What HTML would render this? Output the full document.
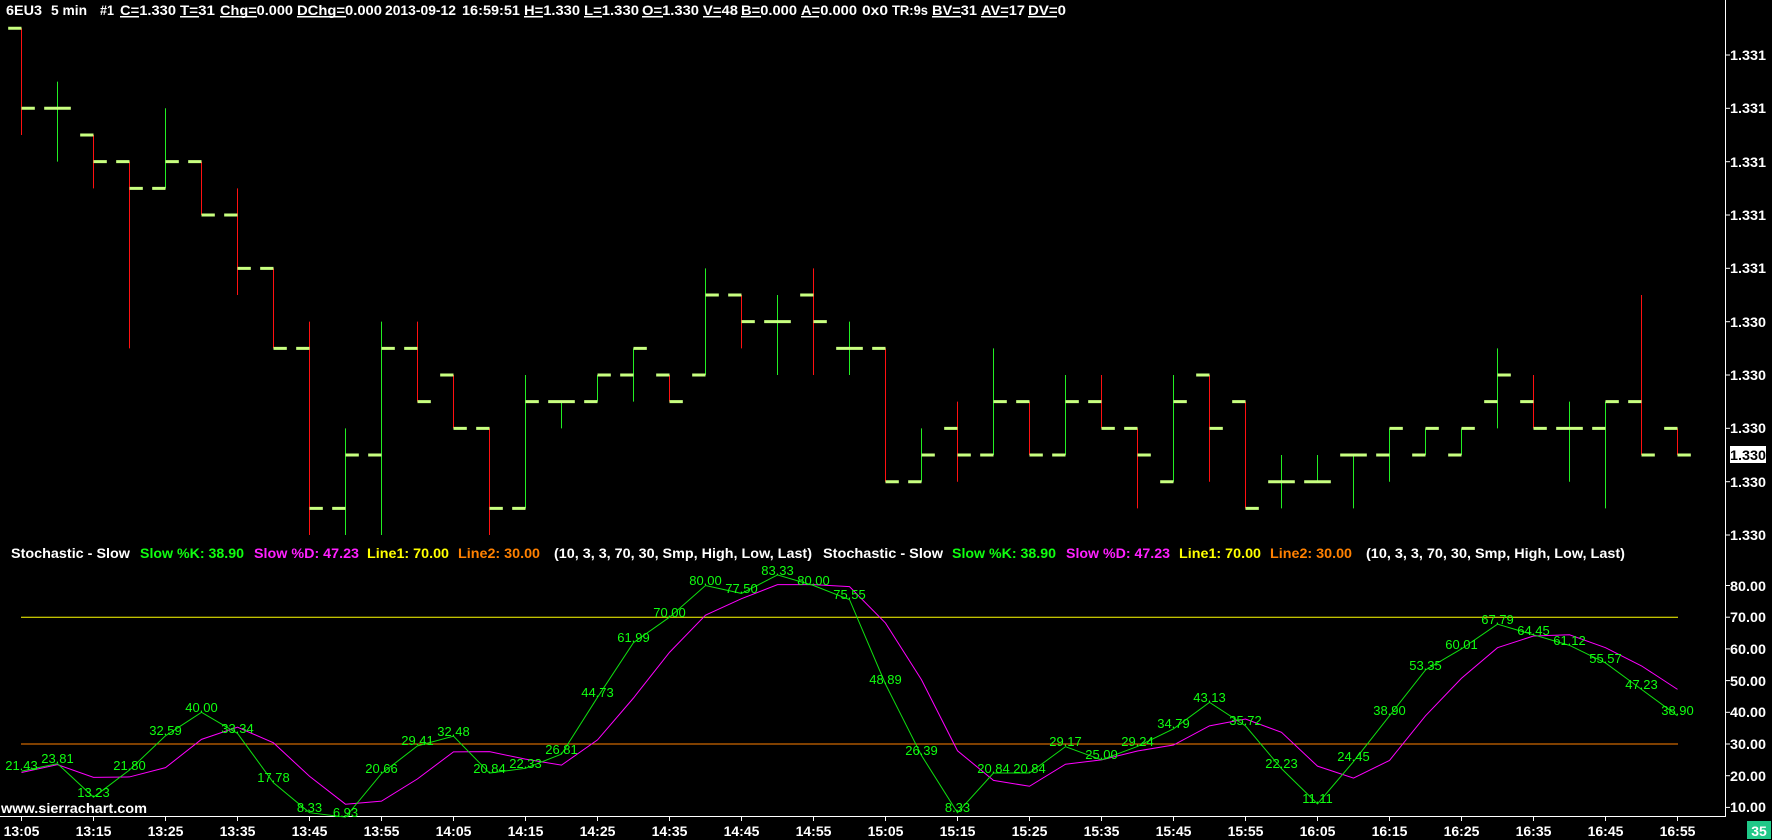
<!DOCTYPE html>
<html><head><meta charset="utf-8"><style>
html,body{margin:0;padding:0;background:#000;width:1772px;height:840px;overflow:hidden}
svg{display:block}
text{font-family:"Liberation Sans",Arial,sans-serif}
.h{fill:#fff;font-weight:bold;font-size:14px}
.k{fill:#10ff10;font-size:13px;text-anchor:middle}
.ax{fill:#fff;font-weight:bold;font-size:14px}
.t{fill:#fff;font-weight:bold;font-size:14px;text-anchor:middle}
</style></head><body>
<svg width="1772" height="840" viewBox="0 0 1772 840" xmlns="http://www.w3.org/2000/svg">
<rect width="1772" height="840" fill="#000"/>
<!-- header -->
<g class="h">
<text x="6" y="15" class="h" textLength="36" lengthAdjust="spacingAndGlyphs">6EU3</text>
<text x="51" y="15" class="h" textLength="36" lengthAdjust="spacingAndGlyphs">5 min</text>
<text x="100" y="15" class="h" textLength="14" lengthAdjust="spacingAndGlyphs">#1</text>
<text x="120" y="15" class="h" textLength="56" lengthAdjust="spacingAndGlyphs">C=1.330</text>
<text x="180" y="15" class="h" textLength="35" lengthAdjust="spacingAndGlyphs">T=31</text>
<text x="220" y="15" class="h" textLength="73" lengthAdjust="spacingAndGlyphs">Chg=0.000</text>
<text x="297" y="15" class="h" textLength="85" lengthAdjust="spacingAndGlyphs">DChg=0.000</text>
<text x="385" y="15" class="h" textLength="71" lengthAdjust="spacingAndGlyphs">2013-09-12</text>
<text x="462" y="15" class="h" textLength="58" lengthAdjust="spacingAndGlyphs">16:59:51</text>
<text x="524" y="15" class="h" textLength="56" lengthAdjust="spacingAndGlyphs">H=1.330</text>
<text x="584" y="15" class="h" textLength="55" lengthAdjust="spacingAndGlyphs">L=1.330</text>
<text x="642" y="15" class="h" textLength="57" lengthAdjust="spacingAndGlyphs">O=1.330</text>
<text x="703" y="15" class="h" textLength="35" lengthAdjust="spacingAndGlyphs">V=48</text>
<text x="741" y="15" class="h" textLength="56" lengthAdjust="spacingAndGlyphs">B=0.000</text>
<text x="801" y="15" class="h" textLength="56" lengthAdjust="spacingAndGlyphs">A=0.000</text>
<text x="862" y="15" class="h" textLength="26" lengthAdjust="spacingAndGlyphs">0x0</text>
<text x="892" y="15" class="h" textLength="36" lengthAdjust="spacingAndGlyphs">TR:9s</text>
<text x="932" y="15" class="h" textLength="45" lengthAdjust="spacingAndGlyphs">BV=31</text>
<text x="981" y="15" class="h" textLength="44" lengthAdjust="spacingAndGlyphs">AV=17</text>
<text x="1028" y="15" class="h" textLength="38" lengthAdjust="spacingAndGlyphs">DV=0</text>
</g>
<g fill="#fff">
<rect x="120" y="16" width="19" height="1.5"/><rect x="180" y="16" width="19" height="1.5"/>
<rect x="220" y="16" width="37" height="1.5"/><rect x="297" y="16" width="49" height="1.5"/>
<rect x="524" y="16" width="19" height="1.5"/><rect x="584" y="16" width="18" height="1.5"/>
<rect x="642" y="16" width="21" height="1.5"/><rect x="703" y="16" width="18" height="1.5"/>
<rect x="741" y="16" width="20" height="1.5"/><rect x="801" y="16" width="18" height="1.5"/>
<rect x="932" y="16" width="29" height="1.5"/><rect x="981" y="16" width="27" height="1.5"/>
<rect x="1028" y="16" width="29" height="1.5"/>
</g>

<g transform="translate(21.5,28.3) scale(36,26.67)">
<g stroke="#ff1010" stroke-width="1">
<line x1="0" y1="0" x2="0" y2="4" vector-effect="non-scaling-stroke"/>
<line x1="2" y1="4" x2="2" y2="6" vector-effect="non-scaling-stroke"/>
<line x1="3" y1="5" x2="3" y2="12" vector-effect="non-scaling-stroke"/>
<line x1="5" y1="5" x2="5" y2="7" vector-effect="non-scaling-stroke"/>
<line x1="6" y1="6" x2="6" y2="10" vector-effect="non-scaling-stroke"/>
<line x1="7" y1="9" x2="7" y2="12" vector-effect="non-scaling-stroke"/>
<line x1="8" y1="11" x2="8" y2="19" vector-effect="non-scaling-stroke"/>
<line x1="11" y1="11" x2="11" y2="14" vector-effect="non-scaling-stroke"/>
<line x1="12" y1="13" x2="12" y2="15" vector-effect="non-scaling-stroke"/>
<line x1="13" y1="15" x2="13" y2="19" vector-effect="non-scaling-stroke"/>
<line x1="18" y1="13" x2="18" y2="14" vector-effect="non-scaling-stroke"/>
<line x1="20" y1="10" x2="20" y2="12" vector-effect="non-scaling-stroke"/>
<line x1="22" y1="9" x2="22" y2="13" vector-effect="non-scaling-stroke"/>
<line x1="24" y1="12" x2="24" y2="17" vector-effect="non-scaling-stroke"/>
<line x1="26" y1="14" x2="26" y2="17" vector-effect="non-scaling-stroke"/>
<line x1="28" y1="14" x2="28" y2="16" vector-effect="non-scaling-stroke"/>
<line x1="30" y1="13" x2="30" y2="15" vector-effect="non-scaling-stroke"/>
<line x1="31" y1="15" x2="31" y2="18" vector-effect="non-scaling-stroke"/>
<line x1="33" y1="13" x2="33" y2="17" vector-effect="non-scaling-stroke"/>
<line x1="34" y1="14" x2="34" y2="18" vector-effect="non-scaling-stroke"/>
<line x1="42" y1="13" x2="42" y2="15" vector-effect="non-scaling-stroke"/>
<line x1="45" y1="10" x2="45" y2="16" vector-effect="non-scaling-stroke"/>
<line x1="46" y1="15" x2="46" y2="16" vector-effect="non-scaling-stroke"/>
</g>
<g stroke="#22ee22" stroke-width="1">
<line x1="1" y1="2" x2="1" y2="5" vector-effect="non-scaling-stroke"/>
<line x1="4" y1="3" x2="4" y2="6" vector-effect="non-scaling-stroke"/>
<line x1="9" y1="15" x2="9" y2="19" vector-effect="non-scaling-stroke"/>
<line x1="10" y1="11" x2="10" y2="19" vector-effect="non-scaling-stroke"/>
<line x1="14" y1="13" x2="14" y2="18" vector-effect="non-scaling-stroke"/>
<line x1="15" y1="14" x2="15" y2="15" vector-effect="non-scaling-stroke"/>
<line x1="16" y1="13" x2="16" y2="14" vector-effect="non-scaling-stroke"/>
<line x1="17" y1="12" x2="17" y2="14" vector-effect="non-scaling-stroke"/>
<line x1="19" y1="9" x2="19" y2="13" vector-effect="non-scaling-stroke"/>
<line x1="21" y1="10" x2="21" y2="13" vector-effect="non-scaling-stroke"/>
<line x1="23" y1="11" x2="23" y2="13" vector-effect="non-scaling-stroke"/>
<line x1="25" y1="15" x2="25" y2="17" vector-effect="non-scaling-stroke"/>
<line x1="27" y1="12" x2="27" y2="16" vector-effect="non-scaling-stroke"/>
<line x1="29" y1="13" x2="29" y2="16" vector-effect="non-scaling-stroke"/>
<line x1="32" y1="13" x2="32" y2="17" vector-effect="non-scaling-stroke"/>
<line x1="35" y1="16" x2="35" y2="18" vector-effect="non-scaling-stroke"/>
<line x1="36" y1="16" x2="36" y2="17" vector-effect="non-scaling-stroke"/>
<line x1="37" y1="16" x2="37" y2="18" vector-effect="non-scaling-stroke"/>
<line x1="38" y1="15" x2="38" y2="17" vector-effect="non-scaling-stroke"/>
<line x1="39" y1="15" x2="39" y2="16" vector-effect="non-scaling-stroke"/>
<line x1="40" y1="15" x2="40" y2="16" vector-effect="non-scaling-stroke"/>
<line x1="41" y1="12" x2="41" y2="15" vector-effect="non-scaling-stroke"/>
<line x1="43" y1="14" x2="43" y2="17" vector-effect="non-scaling-stroke"/>
<line x1="44" y1="14" x2="44" y2="18" vector-effect="non-scaling-stroke"/>
</g>
<path stroke="#c8ff80" stroke-width="3" vector-effect="non-scaling-stroke" fill="none" d="
M-0.37 0H0 M0 3H0.37
M0.63 3H1 M1 3H1.37
M1.63 4H2 M2 5H2.37
M2.63 5H3 M3 6H3.37
M3.63 6H4 M4 5H4.37
M4.63 5H5 M5 7H5.37
M5.63 7H6 M6 9H6.37
M6.63 9H7 M7 12H7.37
M7.63 12H8 M8 18H8.37
M8.63 18H9 M9 16H9.37
M9.63 16H10 M10 12H10.37
M10.63 12H11 M11 14H11.37
M11.63 13H12 M12 15H12.37
M12.63 15H13 M13 18H13.37
M13.63 18H14 M14 14H14.37
M14.63 14H15 M15 14H15.37
M15.63 14H16 M16 13H16.37
M16.63 13H17 M17 12H17.37
M17.63 13H18 M18 14H18.37
M18.63 13H19 M19 10H19.37
M19.63 10H20 M20 11H20.37
M20.63 11H21 M21 11H21.37
M21.63 10H22 M22 11H22.37
M22.63 12H23 M23 12H23.37
M23.63 12H24 M24 17H24.37
M24.63 17H25 M25 16H25.37
M25.63 15H26 M26 16H26.37
M26.63 16H27 M27 14H27.37
M27.63 14H28 M28 16H28.37
M28.63 16H29 M29 14H29.37
M29.63 14H30 M30 15H30.37
M30.63 15H31 M31 16H31.37
M31.63 17H32 M32 14H32.37
M32.63 13H33 M33 15H33.37
M33.63 14H34 M34 18H34.37
M34.63 17H35 M35 17H35.37
M35.63 17H36 M36 17H36.37
M36.63 16H37 M37 16H37.37
M37.63 16H38 M38 15H38.37
M38.63 16H39 M39 15H39.37
M39.63 16H40 M40 15H40.37
M40.63 14H41 M41 13H41.37
M41.63 14H42 M42 15H42.37
M42.63 15H43 M43 15H43.37
M43.63 15H44 M44 14H44.37
M44.63 14H45 M45 16H45.37
M45.63 15H46 M46 16H46.37"/>
</g>

<line x1="1725.5" y1="0" x2="1725.5" y2="817" stroke="#fff" stroke-width="1"/>
<line x1="0" y1="816.5" x2="1726" y2="816.5" stroke="#fff" stroke-width="1"/>
<g stroke="#fff" stroke-width="1">
<line x1="1725" y1="55" x2="1730" y2="55"/><line x1="1725" y1="108.3" x2="1730" y2="108.3"/>
<line x1="1725" y1="161.7" x2="1730" y2="161.7"/><line x1="1725" y1="215" x2="1730" y2="215"/>
<line x1="1725" y1="268.3" x2="1730" y2="268.3"/><line x1="1725" y1="321.7" x2="1730" y2="321.7"/>
<line x1="1725" y1="375" x2="1730" y2="375"/><line x1="1725" y1="428.3" x2="1730" y2="428.3"/>
<line x1="1725" y1="481.7" x2="1730" y2="481.7"/><line x1="1725" y1="535" x2="1730" y2="535"/>
<line x1="1725" y1="585.5" x2="1730" y2="585.5"/><line x1="1725" y1="617.2" x2="1730" y2="617.2"/>
<line x1="1725" y1="648.9" x2="1730" y2="648.9"/><line x1="1725" y1="680.6" x2="1730" y2="680.6"/>
<line x1="1725" y1="712.3" x2="1730" y2="712.3"/><line x1="1725" y1="744" x2="1730" y2="744"/>
<line x1="1725" y1="775.7" x2="1730" y2="775.7"/><line x1="1725" y1="807.4" x2="1730" y2="807.4"/>
</g>
<g class="ax">
<text x="1730" y="60" textLength="36" lengthAdjust="spacingAndGlyphs">1.331</text>
<text x="1730" y="113" textLength="36" lengthAdjust="spacingAndGlyphs">1.331</text>
<text x="1730" y="167" textLength="36" lengthAdjust="spacingAndGlyphs">1.331</text>
<text x="1730" y="220" textLength="36" lengthAdjust="spacingAndGlyphs">1.331</text>
<text x="1730" y="273" textLength="36" lengthAdjust="spacingAndGlyphs">1.331</text>
<text x="1730" y="327" textLength="36" lengthAdjust="spacingAndGlyphs">1.330</text>
<text x="1730" y="380" textLength="36" lengthAdjust="spacingAndGlyphs">1.330</text>
<text x="1730" y="433" textLength="36" lengthAdjust="spacingAndGlyphs">1.330</text>
<text x="1730" y="487" textLength="36" lengthAdjust="spacingAndGlyphs">1.330</text>
<text x="1730" y="540" textLength="36" lengthAdjust="spacingAndGlyphs">1.330</text>
<text x="1730" y="591" textLength="36" lengthAdjust="spacingAndGlyphs">80.00</text>
<text x="1730" y="622" textLength="36" lengthAdjust="spacingAndGlyphs">70.00</text>
<text x="1730" y="654" textLength="36" lengthAdjust="spacingAndGlyphs">60.00</text>
<text x="1730" y="686" textLength="36" lengthAdjust="spacingAndGlyphs">50.00</text>
<text x="1730" y="717" textLength="36" lengthAdjust="spacingAndGlyphs">40.00</text>
<text x="1730" y="749" textLength="36" lengthAdjust="spacingAndGlyphs">30.00</text>
<text x="1730" y="781" textLength="36" lengthAdjust="spacingAndGlyphs">20.00</text>
<text x="1730" y="812" textLength="36" lengthAdjust="spacingAndGlyphs">10.00</text>
</g>
<rect x="1730" y="446" width="36" height="17" fill="#fff"/>
<text x="1730" y="460" class="ax" style="fill:#000" textLength="36" lengthAdjust="spacingAndGlyphs">1.330</text>

<g font-weight="bold" font-size="14">
<text x="11" y="558" fill="#fff" textLength="119" lengthAdjust="spacingAndGlyphs">Stochastic - Slow</text>
<text x="140" y="558" fill="#10ff10" textLength="104" lengthAdjust="spacingAndGlyphs">Slow %K: 38.90</text>
<text x="254" y="558" fill="#ff20ff" textLength="105" lengthAdjust="spacingAndGlyphs">Slow %D: 47.23</text>
<text x="367" y="558" fill="#ffff00" textLength="82" lengthAdjust="spacingAndGlyphs">Line1: 70.00</text>
<text x="458" y="558" fill="#ff8000" textLength="82" lengthAdjust="spacingAndGlyphs">Line2: 30.00</text>
<text x="554" y="558" fill="#fff" textLength="258" lengthAdjust="spacingAndGlyphs">(10, 3, 3, 70, 30, Smp, High, Low, Last)</text>
<text x="823" y="558" fill="#fff" textLength="120" lengthAdjust="spacingAndGlyphs">Stochastic - Slow</text>
<text x="952" y="558" fill="#10ff10" textLength="104" lengthAdjust="spacingAndGlyphs">Slow %K: 38.90</text>
<text x="1066" y="558" fill="#ff20ff" textLength="104" lengthAdjust="spacingAndGlyphs">Slow %D: 47.23</text>
<text x="1179" y="558" fill="#ffff00" textLength="82" lengthAdjust="spacingAndGlyphs">Line1: 70.00</text>
<text x="1270" y="558" fill="#ff8000" textLength="82" lengthAdjust="spacingAndGlyphs">Line2: 30.00</text>
<text x="1366" y="558" fill="#fff" textLength="259" lengthAdjust="spacingAndGlyphs">(10, 3, 3, 70, 30, Smp, High, Low, Last)</text>
</g>

<line x1="21" y1="617.2" x2="1678" y2="617.2" stroke="#ffff00" stroke-width="1"/>
<line x1="21" y1="744" x2="1678" y2="744" stroke="#ff8000" stroke-width="1"/>
<g transform="translate(21.5,839.1) scale(36,-3.17)">
<polyline fill="none" stroke="#ff00ff" stroke-width="1" vector-effect="non-scaling-stroke" points="0,21 1,23.5 2,19.49 3,19.61 4,22.54 5,31.46 6,35.31 7,30.37 8,19.82 9,11.01 10,11.97 11,19 12,27.52 13,27.58 14,25.22 15,23.33 16,31.29 17,44.51 18,58.91 19,70.66 20,75.83 21,80.28 22,80.28 23,79.63 24,68.15 25,50.28 26,27.87 27,18.52 28,16.67 29,23.62 30,25 31,27.8 32,29.68 33,35.72 34,37.88 35,33.69 36,23.02 37,19.26 38,24.82 39,38.9 40,50.75 41,60.38 42,64.08 43,64.45 44,60.38 45,54.64 46,47.23"/>
<polyline fill="none" stroke="#10e010" stroke-width="1" vector-effect="non-scaling-stroke" points="0,21.43 1,23.81 2,13.23 3,21.8 4,32.59 5,40 6,33.34 7,17.78 8,8.33 9,6.93 10,20.66 11,29.41 12,32.48 13,20.84 14,22.33 15,26.81 16,44.73 17,61.99 18,70 19,80 20,77.5 21,83.33 22,80 23,75.55 24,48.89 25,26.39 26,8.33 27,20.84 28,20.84 29,29.17 30,25 31,29.24 32,34.79 33,43.13 34,35.72 35,22.23 36,11.11 37,24.45 38,38.9 39,53.35 40,60.01 41,67.79 42,64.45 43,61.12 44,55.57 45,47.23 46,38.9"/>
</g>
<g class="k">
<text x="21.5" y="770">21.43</text><text x="57.5" y="763">23.81</text><text x="93.5" y="797">13.23</text>
<text x="129.5" y="770">21.80</text><text x="165.5" y="735">32.59</text><text x="201.5" y="712">40.00</text>
<text x="237.5" y="733">33.34</text><text x="273.5" y="782">17.78</text><text x="309.5" y="812">8.33</text>
<text x="345.5" y="817">6.93</text><text x="381.5" y="773">20.66</text><text x="417.5" y="745">29.41</text>
<text x="453.5" y="736">32.48</text><text x="489.5" y="773">20.84</text><text x="525.5" y="768">22.33</text>
<text x="561.5" y="754">26.81</text><text x="597.5" y="697">44.73</text><text x="633.5" y="642">61.99</text>
<text x="669.5" y="617">70.00</text><text x="705.5" y="585">80.00</text><text x="741.5" y="593">77.50</text>
<text x="777.5" y="575">83.33</text><text x="813.5" y="585">80.00</text><text x="849.5" y="599">75.55</text>
<text x="885.5" y="684">48.89</text><text x="921.5" y="755">26.39</text><text x="957.5" y="812">8.33</text>
<text x="993.5" y="773">20.84</text><text x="1029.5" y="773">20.84</text><text x="1065.5" y="746">29.17</text>
<text x="1101.5" y="759">25.00</text><text x="1137.5" y="746">29.24</text><text x="1173.5" y="728">34.79</text>
<text x="1209.5" y="702">43.13</text><text x="1245.5" y="725">35.72</text><text x="1281.5" y="768">22.23</text>
<text x="1317.5" y="803">11.11</text><text x="1353.5" y="761">24.45</text><text x="1389.5" y="715">38.90</text>
<text x="1425.5" y="670">53.35</text><text x="1461.5" y="649">60.01</text><text x="1497.5" y="624">67.79</text>
<text x="1533.5" y="635">64.45</text><text x="1569.5" y="645">61.12</text><text x="1605.5" y="663">55.57</text>
<text x="1641.5" y="689">47.23</text><text x="1677.5" y="715">38.90</text>
</g>

<text x="1" y="813" fill="#fff" font-weight="bold" font-size="14" textLength="146" lengthAdjust="spacingAndGlyphs">www.sierrachart.com</text>

<path stroke="#fff" stroke-width="1" d="M21.5 817V821M93.5 817V821M165.5 817V821M237.5 817V821M309.5 817V821M381.5 817V821M453.5 817V821M525.5 817V821M597.5 817V821M669.5 817V821M741.5 817V821M813.5 817V821M885.5 817V821M957.5 817V821M1029.5 817V821M1101.5 817V821M1173.5 817V821M1245.5 817V821M1317.5 817V821M1389.5 817V821M1461.5 817V821M1533.5 817V821M1605.5 817V821M1677.5 817V821"/>
<g class="t">
<text x="21.5" y="836">13:05</text><text x="93.5" y="836">13:15</text><text x="165.5" y="836">13:25</text>
<text x="237.5" y="836">13:35</text><text x="309.5" y="836">13:45</text><text x="381.5" y="836">13:55</text>
<text x="453.5" y="836">14:05</text><text x="525.5" y="836">14:15</text><text x="597.5" y="836">14:25</text>
<text x="669.5" y="836">14:35</text><text x="741.5" y="836">14:45</text><text x="813.5" y="836">14:55</text>
<text x="885.5" y="836">15:05</text><text x="957.5" y="836">15:15</text><text x="1029.5" y="836">15:25</text>
<text x="1101.5" y="836">15:35</text><text x="1173.5" y="836">15:45</text><text x="1245.5" y="836">15:55</text>
<text x="1317.5" y="836">16:05</text><text x="1389.5" y="836">16:15</text><text x="1461.5" y="836">16:25</text>
<text x="1533.5" y="836">16:35</text><text x="1605.5" y="836">16:45</text><text x="1677.5" y="836">16:55</text>
</g>
<rect x="1747" y="821" width="24" height="18" fill="#20c888"/>
<text x="1759" y="836" class="t">35</text>
</svg>
</body></html>
